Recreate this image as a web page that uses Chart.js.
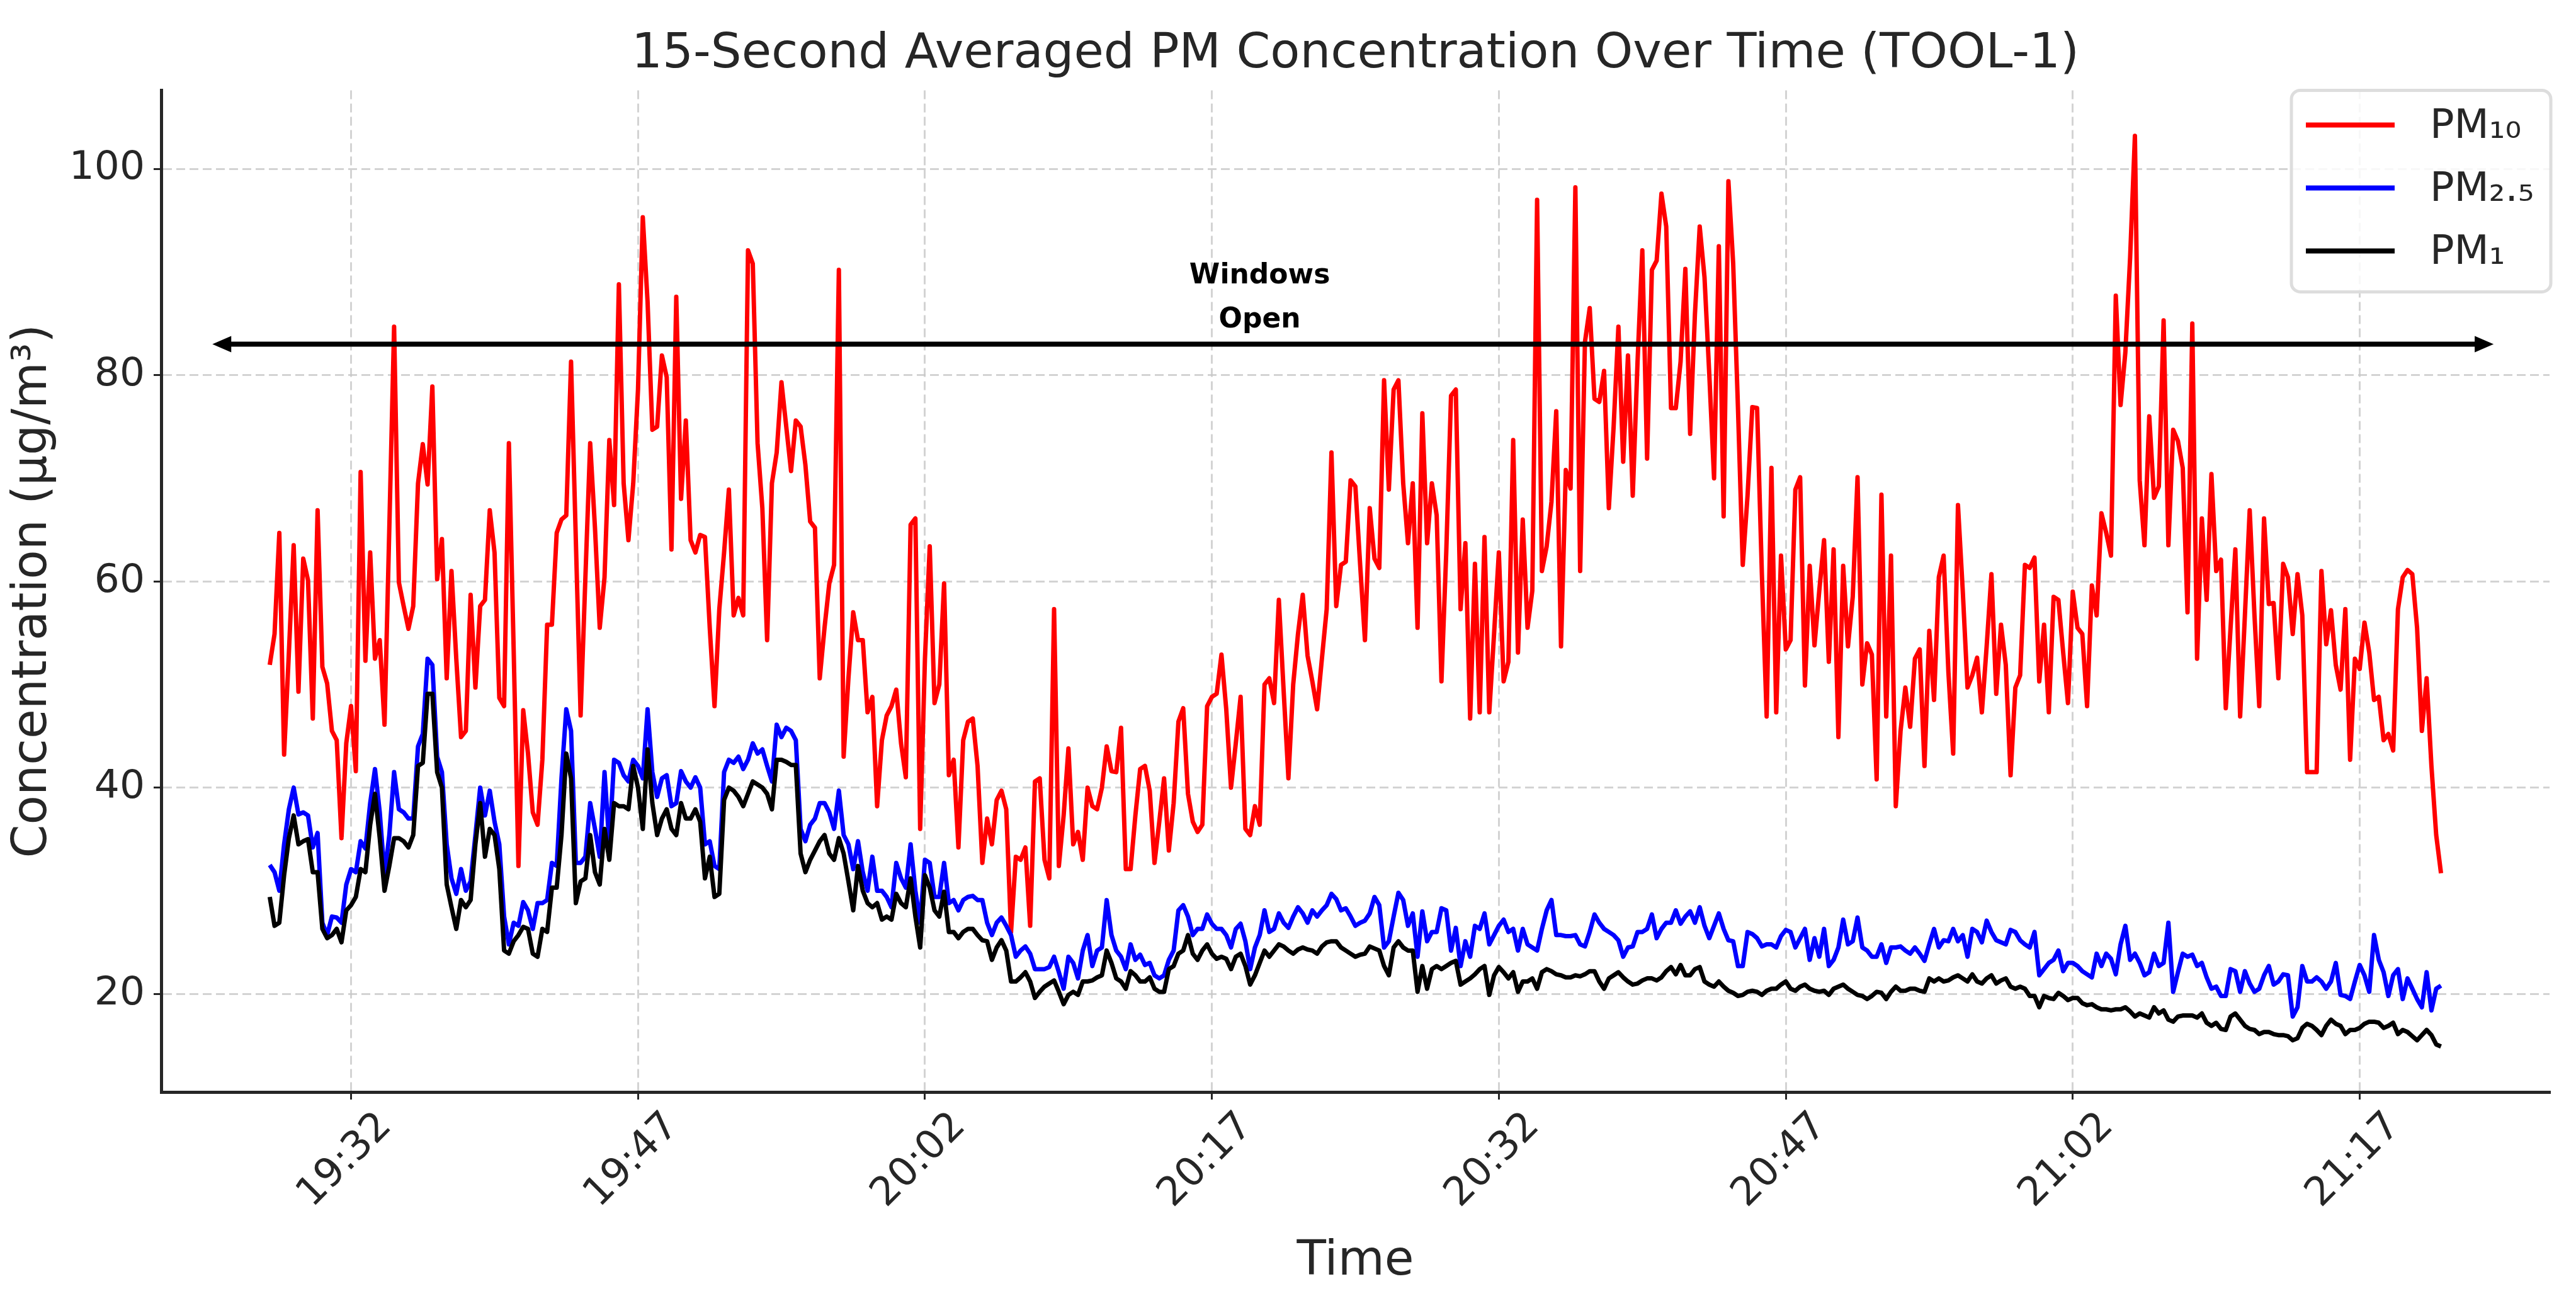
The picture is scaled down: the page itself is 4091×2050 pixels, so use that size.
<!DOCTYPE html>
<html>
<head>
<meta charset="utf-8">
<title>PM Concentration</title>
<script src="https://cdn.jsdelivr.net/npm/chart.js@4.4.1/dist/chart.umd.min.js"></script>
<style>
  html, body { margin: 0; padding: 0; background: #ffffff; }
  #wrap { width: 4091px; height: 2050px; }
</style>
</head>
<body>
<div id="wrap"><canvas id="graficoPM" width="4091" height="2050"></canvas></div>
<script>
// sampling: one value every 15 s starting at the first sample
const startTime = '19:27:45';
const stepSeconds = 15;
const timeTicks = ['19:32', '19:47', '20:02', '20:17', '20:32', '20:47', '21:02', '21:17'];
const concTicks = [20, 40, 60, 80, 100];

// PM10 (µg/m³)
const pm10 = [
  51.9, 54.9, 64.7, 43.2, 53.1, 63.5, 49.3, 62.2, 60.1, 46.7,
  66.9, 51.7, 50.1, 45.5, 44.6, 35.1, 44.3, 47.9, 41.6, 70.6,
  52.3, 62.8, 52.5, 54.3, 46.1, 65.2, 84.7, 59.9, 57.6, 55.4,
  57.6, 69.5, 73.3, 69.4, 78.9, 60.2, 64.1, 50.6, 61.0, 52.5,
  44.9, 45.5, 58.7, 49.7, 57.6, 58.2, 66.9, 62.8, 48.7, 47.9,
  73.4, 53.4, 32.4, 47.5, 43.3, 37.6, 36.4, 42.7, 55.8, 55.8,
  64.7,
  66.0, 66.4, 81.3, 64.0, 47.0, 60.4, 73.4, 65.2, 55.5, 60.4,
  73.7, 67.4, 88.8, 69.5, 64.0, 69.5, 78.6, 95.3, 87.1, 74.7,
  75.0, 81.9, 79.8, 63.1, 87.6, 68.0, 75.6, 64.0, 62.8, 64.5,
  64.3, 55.5, 47.9, 57.3, 62.8, 68.9, 56.7, 58.4, 56.7, 92.1,
  90.8, 73.4, 67.1, 54.3, 69.5, 72.5, 79.3, 75.0, 70.7, 75.6,
  75.0, 71.3, 65.8, 65.2, 50.6, 55.5, 59.8, 61.6, 90.2, 43.0,
  50.6, 57.0, 54.3, 54.3, 47.3, 48.8, 38.2, 44.6, 47.0, 47.9,
  49.5, 44.3,
  41.0, 65.5, 66.1, 36.0, 52.5, 63.4, 48.2, 50.0, 59.8, 41.2,
  42.7, 34.2, 44.6, 46.4, 46.7, 42.1, 32.7, 37.0, 34.5, 38.8,
  39.7, 37.9, 26.0, 33.3, 33.0, 34.2, 26.6, 40.6, 40.9, 33.0,
  31.2, 57.3, 32.4, 37.3, 43.8, 34.5, 35.7, 33.0, 40.0, 38.2,
  37.9, 40.0, 44.0, 41.6, 41.5, 45.8, 32.1, 32.1, 37.3, 41.8,
  42.1, 39.7, 32.7, 36.7, 40.9, 33.9, 38.5, 46.4, 47.7, 39.4,
  36.7, 35.7, 36.4, 47.9, 48.8, 49.1, 52.9, 47.6, 40.0, 44.3,
  48.8, 36.0, 35.4,
  38.2, 36.4, 50.0, 50.6, 48.2, 58.2, 49.4, 40.9, 50.0, 54.9,
  58.7, 52.8, 50.3, 47.6, 52.5, 57.3, 72.5, 57.6, 61.6, 61.9,
  69.8, 69.2, 61.6, 54.3, 67.1, 62.2, 61.3, 79.5, 68.9, 78.6,
  79.5, 69.5, 63.7, 69.5, 55.5, 76.3, 63.7, 69.5, 66.4, 50.3,
  62.8, 78.0, 78.6, 57.3, 63.7, 46.7, 61.7, 47.3, 64.3, 47.3,
  54.9, 62.8, 50.3, 52.2, 73.7, 53.1, 66.0, 55.5, 59.1, 97.0,
  61.0, 63.4, 67.7, 76.5, 53.7, 70.8, 69.0, 98.2, 61.0, 83.2,
  86.5, 77.7, 77.4, 80.4,
  67.1, 75.0, 84.7, 71.6, 81.9, 68.3, 81.3, 92.1, 71.9, 90.2,
  91.1, 97.6, 94.4, 76.8, 76.8, 81.3, 90.3, 74.3, 85.9, 94.4,
  89.5, 80.1, 70.0, 92.5, 66.3, 98.8, 90.8, 76.8, 61.6, 68.3,
  76.9, 76.8, 60.7, 46.9, 71.0, 47.3, 62.5, 53.4, 54.3, 68.9,
  70.1, 49.9, 61.5, 53.8, 59.1, 64.0, 52.2, 63.1, 44.9, 61.5,
  53.7, 58.5, 70.1, 50.0, 54.0, 52.9, 40.8, 68.4, 46.9, 62.5,
  38.2, 45.5, 49.7, 45.9, 52.5, 53.4, 42.1, 55.2, 48.5, 60.4,
  62.5, 51.2, 43.3, 67.4,
  59.1, 49.7, 50.9, 52.6, 47.3, 53.7, 60.7, 49.1, 55.8, 51.9,
  41.2, 49.7, 50.9, 61.6, 61.3, 62.3, 50.3, 55.8, 47.3, 58.5,
  58.2, 53.1, 48.2, 59.0, 55.5, 54.9, 47.9, 59.6, 56.7, 66.6,
  64.7, 62.5, 87.7, 77.1, 82.2, 91.4, 103.2, 69.8, 63.5, 76.0,
  68.1, 69.2, 85.3, 63.5, 74.7, 73.6, 71.0, 57.0, 85.0, 52.5,
  66.1, 58.2, 70.4, 61.0, 62.1, 47.7, 55.5, 63.1, 46.9, 56.7,
  66.9, 56.7, 47.9, 66.1, 57.8, 57.9, 50.6, 61.7, 60.4, 54.9,
  60.7, 56.7, 41.5,
  41.5, 41.5, 61.0, 53.9, 57.2, 51.9, 49.5, 57.3, 42.7, 52.5,
  51.5, 56.0, 53.1, 48.5, 48.8, 44.6, 45.2, 43.6, 57.3, 60.4,
  61.1, 60.7, 55.5, 45.5, 50.6, 42.1, 35.4, 31.7
];

// PM2.5 (µg/m³)
const pm25 = [
  32.5, 31.8, 30.0, 34.5, 37.9, 40.0, 37.4, 37.6, 37.3, 34.2,
  35.6, 26.9, 25.7, 27.5, 27.4, 26.9, 30.6, 32.1, 31.8, 34.8,
  34.1, 38.5, 41.8, 37.6, 31.5, 35.4, 41.5, 37.9, 37.6, 37.0,
  37.0, 44.0, 45.2, 52.5, 51.9, 43.0, 41.5, 34.5, 31.2, 29.7,
  32.1, 30.0, 30.9, 35.4, 40.0, 37.3, 39.7, 36.7, 34.5, 27.5,
  24.8, 26.9, 26.6, 28.9, 28.1, 26.3, 28.8, 28.8, 29.1, 32.7,
  32.4,
  40.9, 47.6, 45.5, 32.7, 32.7, 33.3, 38.5, 36.0, 33.3, 41.5,
  34.5, 42.7, 42.4, 41.2, 40.6, 42.7, 42.1, 40.9, 47.6, 41.5,
  39.1, 40.9, 41.2, 38.2, 38.5, 41.6, 40.6, 40.0, 41.0, 40.0,
  34.5, 34.8, 32.4, 32.1, 41.5, 42.7, 42.4, 43.0, 41.8, 42.7,
  44.3, 43.3, 43.7, 42.1, 40.6, 46.1, 44.9, 45.8, 45.5, 44.6,
  36.0, 34.8, 36.4, 37.0, 38.5, 38.5, 37.6, 36.0, 39.7, 35.4,
  34.5, 32.1, 34.8, 31.8, 30.0, 33.3, 30.0, 30.0, 29.4, 28.4,
  32.7, 31.2,
  30.3, 34.5, 30.0, 26.9, 33.0, 32.7, 29.4, 29.4, 32.7, 28.8,
  29.1, 28.1, 29.1, 29.4, 29.5, 29.1, 29.1, 26.9, 25.7, 26.9,
  27.4, 26.6, 25.7, 23.6, 24.2, 24.6, 23.9, 22.4, 22.4, 22.4,
  22.6, 23.6, 22.1, 20.5, 23.6, 23.0, 21.5, 24.2, 25.7, 22.7,
  24.2, 24.5, 29.1, 25.7, 24.2, 23.6, 22.4, 24.8, 23.3, 23.8,
  22.8, 23.0, 21.8, 21.5, 21.8, 23.3, 24.2, 28.1, 28.6, 27.5,
  25.7, 26.3, 26.3, 27.7, 26.8, 26.3, 26.3, 25.7, 24.5, 26.3,
  26.8, 25.1, 22.4,
  24.5, 25.7, 28.1, 26.0, 26.3, 27.8, 26.9, 26.4, 27.5, 28.4,
  27.8, 26.9, 28.1, 27.5, 28.1, 28.6, 29.7, 29.2, 28.1, 28.3,
  27.5, 26.6, 26.9, 27.1, 27.8, 29.4, 28.6, 24.5, 25.1, 27.5,
  29.8, 29.1, 26.6, 27.8, 23.6, 28.0, 25.1, 26.0, 26.0, 28.3,
  28.1, 24.2, 26.4, 22.7, 25.1, 23.6, 26.6, 26.3, 27.8, 24.8,
  25.7, 26.6, 27.2, 26.0, 26.3, 24.2, 26.3, 24.8, 24.5, 24.2,
  26.3, 28.1, 29.1, 25.7, 25.7, 25.6, 25.6, 25.7, 24.8, 24.6,
  26.0, 27.7, 26.9, 26.3,
  26.0, 25.7, 25.2, 23.6, 24.5, 24.6, 26.0, 26.0, 26.3, 27.7,
  25.4, 26.3, 26.9, 26.9, 28.1, 26.8, 27.5, 28.0, 26.9, 28.4,
  26.6, 25.4, 26.6, 27.8, 26.3, 25.2, 25.1, 22.7, 22.7, 26.0,
  25.8, 25.4, 24.6, 24.8, 24.8, 24.5, 25.6, 26.2, 26.0, 24.5,
  25.4, 26.3, 23.3, 25.4, 23.6, 26.3, 22.7, 23.3, 24.5, 27.2,
  24.8, 25.1, 27.4, 24.5, 24.2, 23.6, 23.6, 24.8, 23.0, 24.5,
  24.5, 24.6, 24.2, 23.9, 24.5, 23.9, 23.2, 24.8, 26.3, 24.5,
  25.2, 25.1, 26.3, 25.1,
  25.7, 23.6, 26.3, 26.0, 25.0, 27.1, 26.0, 25.2, 25.0, 24.8,
  26.2, 26.0, 25.2, 24.8, 24.5, 26.0, 21.8, 22.4, 23.0, 23.3,
  24.2, 22.2, 23.0, 23.0, 22.7, 22.2, 21.9, 21.6, 23.9, 22.7,
  23.9, 23.4, 21.9, 24.8, 26.6, 23.3, 23.9, 23.0, 21.8, 22.1,
  23.9, 22.7, 23.0, 26.9, 20.2, 22.1, 23.9, 23.6, 23.8, 22.7,
  23.0, 21.6, 20.5, 20.7, 19.8, 19.8, 22.4, 22.2, 20.2, 22.2,
  21.0, 20.2, 20.5, 21.8, 22.7, 20.9, 21.2, 21.9, 21.8, 17.8,
  18.7, 22.7, 21.2,
  21.2, 21.6, 21.2, 20.5, 21.2, 23.0, 19.9, 19.8, 19.5, 21.2,
  22.8, 21.8, 20.2, 25.7, 23.3, 22.1, 19.8, 21.8, 22.4, 19.5,
  21.5, 20.5, 19.5, 18.7, 22.1, 18.4, 20.5, 20.8
];

// PM1 (µg/m³)
const pm1 = [
  29.4, 26.6, 26.9, 31.5, 35.1, 37.3, 34.5, 34.8, 35.0, 31.8,
  31.8, 26.3, 25.4, 25.7, 26.3, 25.0, 28.1, 28.6, 29.4, 32.1,
  31.8, 36.4, 39.4, 35.1, 30.0, 32.4, 35.1, 35.1, 34.8, 34.2,
  35.4, 42.1, 42.4, 49.1, 49.1, 41.5, 40.0, 30.6, 28.4, 26.3,
  29.1, 28.4, 29.1, 34.5, 38.5, 33.3, 36.0, 35.4, 32.1, 24.2,
  23.9, 25.1, 25.7, 26.5, 26.3, 23.9, 23.6, 26.3, 26.0, 30.3,
  30.3,
  35.4, 43.3, 40.9, 28.8, 30.9, 31.2, 35.4, 31.8, 30.6, 36.0,
  33.0, 38.5, 38.2, 38.2, 37.9, 42.1, 40.0, 36.0, 43.7, 38.5,
  35.4, 37.0, 37.9, 36.0, 35.4, 38.5, 37.0, 37.0, 37.9, 36.7,
  31.2, 33.3, 29.4, 29.7, 38.8, 40.0, 39.7, 39.1, 38.2, 39.4,
  40.6, 40.3, 40.0, 39.4, 37.9, 42.7, 42.7, 42.5, 42.2, 42.2,
  33.6, 31.8, 33.0, 33.9, 34.8, 35.4, 33.6, 33.0, 35.1, 33.6,
  30.9, 28.1, 32.4, 30.0, 28.8, 28.4, 28.8, 27.2, 27.5, 27.2,
  29.7, 28.8,
  28.4, 31.2, 27.5, 24.5, 31.5, 30.3, 28.1, 27.5, 29.9, 26.0,
  26.0, 25.4, 26.0, 26.3, 26.3, 25.7, 25.2, 25.1, 23.3, 24.5,
  25.2, 24.2, 21.2, 21.2, 21.6, 22.1, 21.2, 19.6, 20.2, 20.7,
  21.0, 21.3, 20.2, 19.0, 19.9, 20.2, 19.9, 21.2, 21.2, 21.3,
  21.6, 21.8, 24.2, 23.0, 21.5, 21.2, 20.5, 22.2, 21.8, 21.2,
  21.2, 21.6, 20.5, 20.2, 20.2, 22.4, 22.7, 23.9, 24.2, 25.7,
  23.9, 23.3, 24.2, 24.8, 23.9, 23.4, 23.6, 23.4, 22.4, 23.6,
  23.9, 22.7, 20.9,
  21.8, 23.0, 24.2, 23.6, 24.2, 24.8, 24.6, 24.2, 23.9, 24.3,
  24.5, 24.3, 24.2, 23.9, 24.6, 25.0, 25.1, 25.1, 24.5, 24.2,
  23.9, 23.6, 23.8, 23.9, 24.6, 24.4, 24.2, 22.7, 21.8, 24.5,
  25.1, 24.5, 24.2, 24.2, 20.2, 22.7, 20.5, 22.4, 22.7, 22.4,
  22.7, 23.0, 23.2, 20.9, 21.2, 21.5, 21.9, 22.4, 22.7, 19.9,
  21.8, 22.6, 22.1, 21.5, 22.1, 20.2, 21.2, 21.2, 21.5, 20.5,
  22.1, 22.4, 22.2, 21.9, 21.8, 21.6, 21.6, 21.8, 21.7, 21.9,
  22.2, 22.2, 21.2, 20.5,
  21.5, 21.8, 22.1, 21.6, 21.2, 20.9, 21.0, 21.3, 21.5, 21.5,
  21.3, 21.6, 22.2, 22.6, 21.9, 22.8, 21.8, 21.8, 22.4, 22.6,
  21.2, 20.9, 20.7, 21.2, 20.7, 20.3, 20.1, 19.8, 19.9, 20.2,
  20.3, 20.2, 19.9, 20.3, 20.5, 20.5, 20.9, 21.2, 20.5, 20.3,
  20.7, 20.9, 20.5, 20.3, 20.2, 20.3, 19.9, 20.5, 20.7, 20.9,
  20.5, 20.2, 19.9, 19.8, 19.5, 19.8, 20.2, 20.1, 19.5, 20.2,
  20.7, 20.3, 20.3, 20.5, 20.5, 20.3, 20.2, 21.5, 21.2, 21.5,
  21.2, 21.3, 21.6, 21.8,
  21.5, 21.2, 21.9, 21.2, 21.0, 21.5, 21.8, 21.0, 21.3, 21.5,
  20.7, 20.5, 20.7, 20.5, 19.8, 19.8, 18.7, 19.8, 19.6, 19.5,
  20.1, 19.8, 19.4, 19.6, 19.6, 19.1, 18.9, 19.0, 18.7, 18.5,
  18.5, 18.4, 18.5, 18.5, 18.7, 18.3, 17.8, 18.1, 17.9, 17.7,
  18.7, 18.1, 18.4, 17.5, 17.3, 17.8, 17.9, 17.9, 17.9, 17.7,
  18.1, 17.2, 16.9, 17.2, 16.6, 16.5, 17.8, 18.1, 17.5, 16.9,
  16.6, 16.5, 16.1, 16.3, 16.3, 16.1, 16.0, 16.0, 15.9, 15.5,
  15.7, 16.7, 17.1,
  16.9, 16.5, 16.0, 16.9, 17.5, 17.1, 16.9, 16.1, 16.5, 16.5,
  16.7, 17.1, 17.3, 17.3, 17.2, 16.7, 16.9, 17.2, 16.1, 16.5,
  16.3, 15.9, 15.5, 16.0, 16.5, 16.0, 15.1, 14.9
];

// "Windows Open" annotation (time span and level in data units)
const windowsFrom = '19:24:45';
const windowsTo = '21:24:00';
const windowsLevel = 83;
const windowsLabelTime = '20:19:30';
const windowsLabelLines = ['Windows', 'Open'];
const windowsLabelLevels = [89.6, 85.3];

// --- helpers ---
function toMinutes(t) {
  const p = t.split(':').map(Number);
  return p[0] * 60 + p[1] + (p[2] || 0) / 60;
}
function fmtTime(m) {
  const h = Math.floor(m / 60);
  const mm = Math.round(m - h * 60);
  return String(h).padStart(2, '0') + ':' + String(mm).padStart(2, '0');
}

const t0 = toMinutes(startTime);
const times = pm10.map((_, i) => t0 + i * stepSeconds / 60);
const asPoints = arr => arr.map((v, i) => ({ x: times[i], y: v }));

// matplotlib-like 5% margins
const tSpan = times[times.length - 1] - times[0];
const xMin = times[0] - 0.05 * tSpan;
const xMax = times[times.length - 1] + 0.05 * tSpan;
const allVals = pm10.concat(pm25, pm1);
const vMin = Math.min(...allVals), vMax = Math.max(...allVals);
const yMin = vMin - 0.05 * (vMax - vMin);
const yMax = vMax + 0.05 * (vMax - vMin);

const FONT = 'DejaVu Sans';
const TXT = '#262626';

// annotation + legend drawn inside the plot area
const extras = {
  id: 'extras',
  afterDatasetsDraw(chart) {
    const { ctx, scales: { x, y }, chartArea } = chart;
    ctx.save();
    // double arrow
    const x1 = x.getPixelForValue(toMinutes(windowsFrom));
    const x2 = x.getPixelForValue(toMinutes(windowsTo));
    const ya = y.getPixelForValue(windowsLevel);
    const head = 30, half = 13;
    ctx.strokeStyle = '#000';
    ctx.fillStyle = '#000';
    ctx.lineWidth = 8;
    ctx.beginPath();
    ctx.moveTo(x1 + head - 2, ya);
    ctx.lineTo(x2 - head + 2, ya);
    ctx.stroke();
    ctx.beginPath();
    ctx.moveTo(x1, ya); ctx.lineTo(x1 + head, ya - half); ctx.lineTo(x1 + head, ya + half);
    ctx.closePath(); ctx.fill();
    ctx.beginPath();
    ctx.moveTo(x2, ya); ctx.lineTo(x2 - head, ya - half); ctx.lineTo(x2 - head, ya + half);
    ctx.closePath(); ctx.fill();
    // label
    ctx.font = 'bold 44px "' + FONT + '"';
    ctx.textAlign = 'center';
    ctx.textBaseline = 'middle';
    const xl = x.getPixelForValue(toMinutes(windowsLabelTime));
    windowsLabelLines.forEach((s, i) => ctx.fillText(s, xl, y.getPixelForValue(windowsLabelLevels[i])));

    // legend box (upper right)
    const bw = 412, bh = 320;
    const bx = chartArea.right - bw + 2, by = chartArea.top;
    ctx.fillStyle = 'rgba(255,255,255,0.85)';
    ctx.strokeStyle = '#dddddd';
    ctx.lineWidth = 5;
    ctx.beginPath();
    ctx.roundRect(bx, by, bw, bh, 14);
    ctx.fill();
    ctx.stroke();
    ctx.font = '64px "' + FONT + '"';
    ctx.textAlign = 'left';
    ctx.textBaseline = 'middle';
    chart.data.datasets.forEach((ds, i) => {
      const ry = by + 55 + i * 100;
      ctx.strokeStyle = ds.borderColor;
      ctx.lineWidth = 8;
      ctx.beginPath();
      ctx.moveTo(bx + 23, ry);
      ctx.lineTo(bx + 164, ry);
      ctx.stroke();
      ctx.fillStyle = TXT;
      ctx.fillText(ds.label, bx + 220, ry + 4);
    });
    ctx.restore();
  }
};

new Chart(document.getElementById('graficoPM'), {
  type: 'line',
  data: {
    datasets: [
      { label: 'PM₁₀', data: asPoints(pm10), borderColor: '#ff0000', order: 2 },
      { label: 'PM₂.₅', data: asPoints(pm25), borderColor: '#0000ff', order: 1 },
      { label: 'PM₁', data: asPoints(pm1), borderColor: '#000000', order: 0 }
    ]
  },
  options: {
    responsive: false,
    devicePixelRatio: 1,
    animation: false,
    layout: { padding: { left: 0, right: 42, top: 0, bottom: 0 } },
    elements: {
      point: { radius: 0 },
      line: { borderWidth: 7, tension: 0, fill: false, borderJoinStyle: 'round' }
    },
    plugins: {
      legend: { display: false },
      tooltip: { enabled: false },
      title: {
        display: true,
        fullSize: false,
        text: '15-Second Averaged PM Concentration Over Time (TOOL-1)',
        color: TXT,
        font: { family: FONT, size: 77, weight: 'normal', lineHeight: 1.2 },
        padding: { top: 41, bottom: 10 }
      }
    },
    scales: {
      x: {
        type: 'linear',
        min: xMin,
        max: xMax,
        afterBuildTicks: axis => { axis.ticks = timeTicks.map(t => ({ value: toMinutes(t) })); },
        afterFit: axis => { axis.height = 316; },
        ticks: {
          callback: v => fmtTime(v),
          minRotation: 45,
          maxRotation: 45,
          labelOffset: 55,
          padding: 6,
          color: TXT,
          font: { family: FONT, size: 63 }
        },
        grid: { color: 'rgba(200,200,200,0.8)', lineWidth: 3, tickLength: 12, tickColor: TXT, tickWidth: 3 },
        border: { display: true, color: TXT, width: 5, dash: [14, 7] },
        title: {
          display: true, text: 'Time', color: TXT,
          font: { family: FONT, size: 76, lineHeight: 1.2 },
          padding: { top: 20, bottom: 0 }
        }
      },
      y: {
        min: yMin,
        max: yMax,
        afterBuildTicks: axis => { axis.ticks = concTicks.map(v => ({ value: v })); },
        afterFit: axis => { axis.width = 256; },
        ticks: { padding: 14, color: TXT, font: { family: FONT, size: 63 } },
        grid: { color: 'rgba(200,200,200,0.8)', lineWidth: 3, tickLength: 12, tickColor: TXT, tickWidth: 3 },
        border: { display: true, color: TXT, width: 5, dash: [14, 7] },
        title: {
          display: true, text: 'Concentration (µg/m³)', color: TXT,
          font: { family: FONT, size: 76, lineHeight: 1.2 },
          padding: { top: 8, bottom: 0 }
        }
      }
    }
  },
  plugins: [extras]
});
</script>
</body>
</html>
